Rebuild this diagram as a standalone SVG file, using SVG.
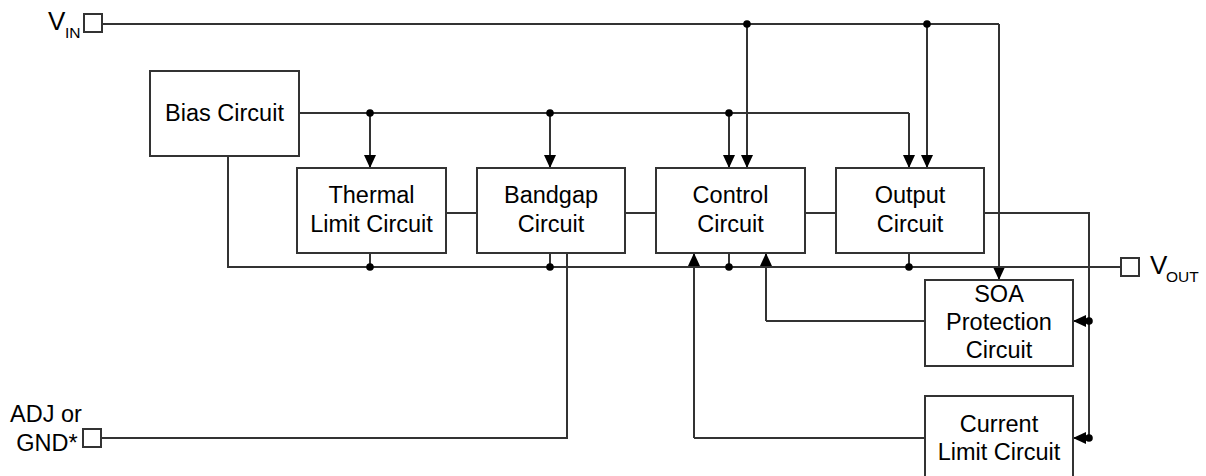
<svg xmlns="http://www.w3.org/2000/svg" width="1206" height="476" viewBox="0 0 1206 476">
<style>
.box{fill:#fff;stroke:#333;stroke-width:2}
.w{fill:none;stroke:#333;stroke-width:2}
.a{fill:none;stroke:#333;stroke-width:2;marker-end:url(#arr)}
.dot{fill:#000}
text{font-family:"Liberation Sans",Arial,sans-serif;font-size:23.5px;fill:#000}
.c{text-anchor:middle}
.big{font-size:26px}
.sub{font-size:15.5px}
</style>
<defs>
<marker id="arr" markerUnits="userSpaceOnUse" markerWidth="13" markerHeight="12" refX="13" refY="6" orient="auto" viewBox="0 0 13 12">
<path d="M0,0 L13,6 L0,12 z" fill="#000"/>
</marker>
</defs>
<g id="connectors">
<path class="w" d="M102,24 H999"/>
<path class="a" d="M999,24 V280"/>
<path class="a" d="M747,24 V168"/>
<path class="a" d="M927,24 V168"/>
<path class="w" d="M299,113 H909"/>
<path class="a" d="M909,113 V168"/>
<path class="a" d="M370,113 V168"/>
<path class="a" d="M550,113 V168"/>
<path class="a" d="M729,113 V168"/>
<path class="w" d="M446,213 H477 M625,213 H656 M805,213 H836"/>
<path class="w" d="M984,213 H1089 V438"/>
<path class="a" d="M1089,321 H1073"/>
<path class="a" d="M1089,438 H1073"/>
<path class="w" d="M228,156 V267 H1121"/>
<path class="w" d="M370,253 V267 M550,253 V267 M729,253 V267 M909,253 V267"/>
<path class="w" d="M567,253 V438 H101"/>
<path class="w" d="M925,321 H766"/>
<path class="a" d="M766,321 V253"/>
<path class="w" d="M925,438 H694"/>
<path class="a" d="M694,438 V253"/>
<circle class="dot" cx="747" cy="24" r="3.8"/>
<circle class="dot" cx="927" cy="24" r="3.8"/>
<circle class="dot" cx="370" cy="113" r="3.8"/>
<circle class="dot" cx="550" cy="113" r="3.8"/>
<circle class="dot" cx="729" cy="113" r="3.8"/>
<circle class="dot" cx="370" cy="267" r="3.8"/>
<circle class="dot" cx="550" cy="267" r="3.8"/>
<circle class="dot" cx="729" cy="267" r="3.8"/>
<circle class="dot" cx="909" cy="267" r="3.8"/>
<circle class="dot" cx="1089" cy="321" r="3.8"/>
<circle class="dot" cx="1089" cy="438" r="3.8"/>
</g>
<g id="vin">
<rect class="box" x="84" y="14" width="18" height="18"/>
<text class="big" x="48" y="30">V<tspan class="sub" x="65" y="38">IN</tspan></text>
</g>
<g id="vout">
<rect class="box" x="1121" y="258" width="18" height="18"/>
<text class="big" x="1150" y="274">V<tspan class="sub" x="1166" y="282">OUT</tspan></text>
</g>
<g id="adj">
<rect class="box" x="83" y="429" width="18" height="18"/>
<text class="c" x="46" y="422">ADJ or</text>
<text class="c" x="47" y="451">GND*</text>
</g>
<g id="bias">
<rect class="box" x="150" y="71" width="149" height="85"/>
<text class="c" x="224.5" y="121">Bias Circuit</text>
</g>
<g id="thermal">
<rect class="box" x="297" y="168" width="149" height="85"/>
<text class="c" x="371.5" y="203">Thermal</text>
<text class="c" x="371.5" y="232">Limit Circuit</text>
</g>
<g id="bandgap">
<rect class="box" x="477" y="168" width="148" height="85"/>
<text class="c" x="551" y="203">Bandgap</text>
<text class="c" x="551" y="232">Circuit</text>
</g>
<g id="control">
<rect class="box" x="656" y="168" width="149" height="85"/>
<text class="c" x="730.5" y="203">Control</text>
<text class="c" x="730.5" y="232">Circuit</text>
</g>
<g id="output">
<rect class="box" x="836" y="168" width="148" height="85"/>
<text class="c" x="910" y="203">Output</text>
<text class="c" x="910" y="232">Circuit</text>
</g>
<g id="soa">
<rect class="box" x="925" y="280" width="148" height="86"/>
<text class="c" x="999" y="302">SOA</text>
<text class="c" x="999" y="330">Protection</text>
<text class="c" x="999" y="358">Circuit</text>
</g>
<g id="current">
<rect class="box" x="925" y="396" width="148" height="86"/>
<text class="c" x="999" y="432">Current</text>
<text class="c" x="999" y="460">Limit Circuit</text>
</g>
</svg>
